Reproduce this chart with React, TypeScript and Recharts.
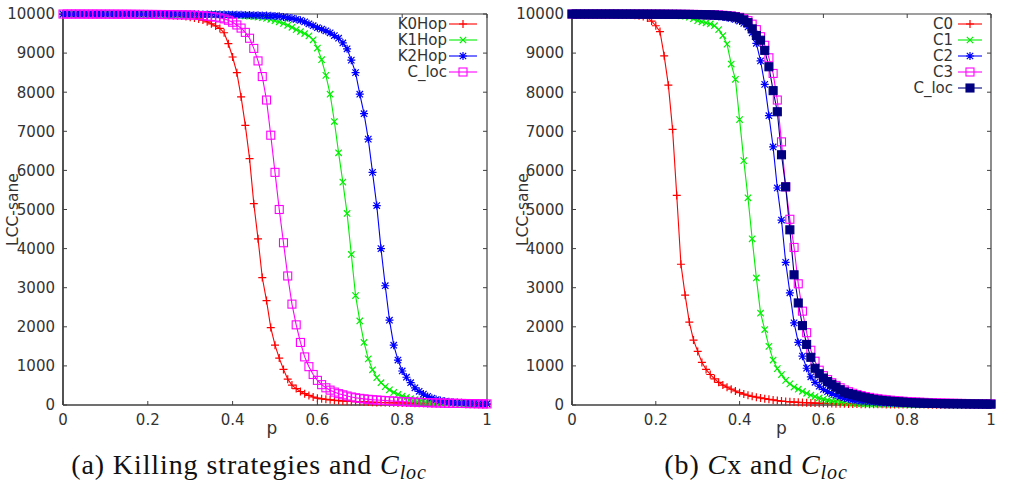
import React from 'react';
import { LineChart, Line, XAxis, YAxis, Label, ReferenceLine } from 'recharts';

// ---------- data ----------
const P = [
  0, 0.01, 0.02, 0.03, 0.04, 0.05, 0.06, 0.07, 0.08, 0.09,
  0.1, 0.11, 0.12, 0.13, 0.14, 0.15, 0.16, 0.17, 0.18, 0.19,
  0.2, 0.21, 0.22, 0.23, 0.24, 0.25, 0.26, 0.27, 0.28, 0.29,
  0.3, 0.31, 0.32, 0.33, 0.34, 0.35, 0.36, 0.37, 0.38, 0.39,
  0.4, 0.41, 0.42, 0.43, 0.44, 0.45, 0.46, 0.47, 0.48, 0.49,
  0.5, 0.51, 0.52, 0.53, 0.54, 0.55, 0.56, 0.57, 0.58, 0.59,
  0.6, 0.61, 0.62, 0.63, 0.64, 0.65, 0.66, 0.67, 0.68, 0.69,
  0.7, 0.71, 0.72, 0.73, 0.74, 0.75, 0.76, 0.77, 0.78, 0.79,
  0.8, 0.81, 0.82, 0.83, 0.84, 0.85, 0.86, 0.87, 0.88, 0.89,
  0.9, 0.91, 0.92, 0.93, 0.94, 0.95, 0.96, 0.97, 0.98, 0.99, 1,
];

// (a) Killing strategies and C_loc
const K0HOP = [
  9998, 9998, 9998, 9997, 9997, 9997, 9996, 9996, 9996, 9995,
  9995, 9994, 9994, 9993, 9993, 9992, 9991, 9990, 9989, 9987,
  9985, 9983, 9980, 9977, 9973, 9968, 9962, 9955, 9946, 9935,
  9920, 9900, 9875, 9845, 9800, 9750, 9695, 9630, 9520, 9240,
  8900, 8500, 7880, 7150, 6300, 5150, 4250, 3260, 2670, 1980,
  1530, 1200, 910, 660, 510, 420, 345, 290, 245, 205,
  175, 158, 145, 133, 122, 113, 105, 98, 92, 87,
  82, 78, 74, 70, 67, 64, 61, 58, 56, 54,
  52, 50, 48, 46, 44, 42, 40, 38, 36, 34,
  32, 30, 28, 26, 24, 22, 20, 18, 16, 14, 12,
];
const K1HOP = [
  9999, 9999, 9999, 9999, 9999, 9999, 9998, 9998, 9998, 9998,
  9998, 9997, 9997, 9997, 9997, 9996, 9996, 9996, 9995, 9995,
  9995, 9994, 9994, 9993, 9993, 9992, 9992, 9991, 9990, 9990,
  9989, 9988, 9987, 9986, 9985, 9984, 9983, 9981, 9980, 9978,
  9975, 9970, 9962, 9955, 9945, 9935, 9920, 9905, 9885, 9860,
  9830, 9800, 9760, 9710, 9660, 9600, 9550, 9500, 9440, 9340,
  9130, 8830, 8430, 7950, 7250, 6450, 5700, 4900, 3850, 2800,
  2150, 1600, 1180, 900, 700, 570, 470, 390, 320, 270,
  230, 195, 165, 140, 120, 105, 93, 83, 75, 68,
  62, 57, 52, 48, 44, 41, 38, 35, 33, 31, 29,
];
const K2HOP = [
  9999, 9999, 9999, 9999, 9999, 9999, 9999, 9999, 9999, 9999,
  9998, 9998, 9998, 9998, 9998, 9998, 9997, 9997, 9997, 9997,
  9997, 9996, 9996, 9996, 9995, 9995, 9995, 9994, 9994, 9993,
  9993, 9992, 9991, 9990, 9989, 9988, 9987, 9986, 9985, 9983,
  9982, 9980, 9978, 9976, 9973, 9970, 9967, 9963, 9959, 9955,
  9950, 9940, 9925, 9910, 9890, 9865, 9840, 9800, 9750, 9700,
  9650, 9610, 9570, 9520, 9450, 9380, 9260, 9110, 8820, 8500,
  7950, 7450, 6800, 5950, 5100, 4000, 3050, 2170, 1530, 1150,
  870, 710, 570, 440, 350, 280, 220, 175, 140, 115,
  95, 80, 70, 62, 55, 50, 45, 41, 38, 35, 32,
];
const CLOC_A = [
  9999, 9999, 9999, 9999, 9999, 9998, 9998, 9998, 9998, 9997,
  9997, 9997, 9996, 9996, 9995, 9995, 9994, 9993, 9992, 9991,
  9990, 9989, 9988, 9987, 9986, 9985, 9983, 9981, 9979, 9977,
  9975, 9970, 9962, 9955, 9945, 9935, 9920, 9900, 9875, 9840,
  9790, 9720, 9640, 9530, 9380, 9120, 8800, 8400, 7800, 6900,
  5950, 5000, 4150, 3300, 2580, 2050, 1600, 1230, 980, 780,
  630, 520, 440, 380, 330, 290, 260, 230, 205, 185,
  170, 157, 145, 135, 127, 120, 113, 106, 100, 93,
  87, 82, 77, 72, 68, 64, 60, 57, 54, 51,
  48, 46, 44, 42, 40, 38, 36, 34, 32, 30, 28,
];

// (b) Cx and C_loc
const C0 = [
  9999, 9999, 9999, 9999, 9999, 9999, 9999, 9998, 9998, 9997,
  9995, 9993, 9990, 9985, 9978, 9968, 9955, 9935, 9900, 9820,
  9700, 9550, 8930, 8180, 7050, 5360, 3600, 2810, 2120, 1660,
  1370, 1090, 910, 780, 670, 580, 510, 455, 405, 358,
  315, 280, 250, 222, 200, 180, 163, 146, 129, 114,
  100, 90, 82, 75, 69, 63, 58, 53, 49, 45,
  42, 39, 36, 33, 31, 29, 27, 25, 23, 22,
  20, 19, 18, 17, 16, 15, 14, 14, 13, 12,
  12, 11, 11, 10, 10, 9, 9, 9, 8, 8,
  8, 7, 7, 7, 6, 6, 6, 6, 5, 5, 5,
];
const C1 = [
  9999, 9999, 9999, 9999, 9999, 9999, 9999, 9999, 9998, 9998,
  9998, 9998, 9997, 9997, 9996, 9996, 9995, 9994, 9993, 9991,
  9988, 9985, 9982, 9978, 9972, 9964, 9955, 9945, 9920, 9880,
  9830, 9800, 9775, 9745, 9700, 9600, 9450, 9230, 8720, 8330,
  7300, 6250, 5300, 4250, 3250, 2350, 1930, 1500, 1150, 930,
  780, 630, 540, 460, 405, 350, 300, 250, 215, 180,
  150, 120, 100, 85, 70, 58, 50, 43, 37, 32,
  28, 26, 24, 22, 20, 19, 18, 17, 16, 15,
  14, 13, 12, 12, 11, 11, 10, 10, 9, 9,
  9, 8, 8, 8, 7, 7, 7, 6, 6, 6, 5,
];
const C2 = [
  9999, 9999, 9999, 9999, 9999, 9999, 9999, 9999, 9999, 9999,
  9998, 9998, 9998, 9998, 9997, 9997, 9997, 9996, 9996, 9995,
  9995, 9994, 9993, 9993, 9992, 9991, 9990, 9989, 9987, 9985,
  9980, 9975, 9970, 9962, 9955, 9945, 9930, 9912, 9890, 9860,
  9820, 9760, 9670, 9520, 9250, 8800, 8200, 7400, 6600, 5550,
  4730, 3650, 2870, 2100, 1600, 1250, 940, 720, 580, 480,
  400, 340, 290, 250, 215, 185, 160, 140, 122, 108,
  96, 86, 77, 70, 63, 57, 52, 48, 44, 40,
  37, 34, 32, 30, 28, 26, 24, 23, 22, 21,
  20, 19, 18, 17, 16, 15, 14, 14, 13, 13, 12,
];
const C3 = [
  9999, 9999, 9999, 9999, 9999, 9999, 9999, 9999, 9999, 9999,
  9999, 9999, 9998, 9998, 9998, 9998, 9997, 9997, 9997, 9996,
  9996, 9995, 9995, 9994, 9993, 9993, 9992, 9991, 9990, 9989,
  9988, 9986, 9984, 9982, 9979, 9975, 9968, 9960, 9950, 9935,
  9915, 9880, 9830, 9740, 9600, 9420, 9200, 8880, 8480, 7800,
  6730, 5580, 4750, 4030, 3100, 2400, 1850, 1400, 1120, 890,
  750, 650, 570, 500, 440, 385, 340, 300, 268, 240,
  215, 195, 175, 160, 146, 134, 123, 113, 104, 96,
  89, 83, 77, 72, 67, 63, 59, 55, 52, 49,
  46, 44, 42, 40, 38, 36, 34, 32, 31, 30, 29,
];
const CLOC_B = [
  9999, 9999, 9999, 9999, 9999, 9999, 9999, 9999, 9999, 9999,
  9999, 9998, 9998, 9998, 9998, 9997, 9997, 9997, 9996, 9996,
  9995, 9995, 9994, 9993, 9993, 9992, 9991, 9990, 9989, 9987,
  9985, 9983, 9980, 9977, 9973, 9965, 9958, 9950, 9940, 9925,
  9900, 9850, 9780, 9620, 9450, 9330, 9070, 8650, 8040, 7500,
  6400, 5580, 4480, 3330, 2610, 2030, 1550, 1220, 940, 800,
  690, 600, 530, 460, 390, 330, 295, 265, 235, 208,
  185, 165, 145, 128, 115, 104, 95, 87, 80, 74,
  65, 58, 54, 50, 47, 44, 41, 38, 36, 34,
  32, 31, 30, 29, 28, 27, 26, 25, 24, 23, 22,
];

const X_TICKS = [0, 0.2, 0.4, 0.6, 0.8, 1];
const Y_TICKS = [0, 1000, 2000, 3000, 4000, 5000, 6000, 7000, 8000, 9000, 10000];
const X_MAX = 1;
const Y_MAX = 10000;

const LEFT_NAMES = ['K0Hop', 'K1Hop', 'K2Hop', 'C_loc'];
const RIGHT_NAMES = ['C0', 'C1', 'C2', 'C3', 'C_loc'];

const dataA = P.map((p, i) => ({ p, k0: K0HOP[i], k1: K1HOP[i], k2: K2HOP[i], cl: CLOC_A[i] }));
const dataB = P.map((p, i) => ({ p, c0: C0[i], c1: C1[i], c2: C2[i], c3: C3[i], cl: CLOC_B[i] }));

// ---------- styles ----------
const FONT = "'DejaVu Sans', Verdana, sans-serif";
const AX = '#404040';
const TXT = '#333333';
const RED = '#ff0000';
const GREEN = '#00ee00';
const BLUE = '#0000ff';
const MAGENTA = '#ff00ff';
const NAVY = '#000080';

type Kind = 'plus' | 'cross' | 'star' | 'square' | 'fsquare';

function Marker({ cx, cy, kind, color }: { cx: number; cy: number; kind: Kind; color: string }) {
  const s = 4;
  if (kind === 'square' || kind === 'fsquare') {
    return (
      <rect x={cx - s} y={cy - s} width={2 * s} height={2 * s}
        fill={kind === 'fsquare' ? color : 'none'} stroke={color} strokeWidth={1.1} />
    );
  }
  const t = s * 0.8;
  const plus = `M${cx - s} ${cy}H${cx + s}M${cx} ${cy - s}V${cy + s}`;
  const cross = `M${cx - t} ${cy - t}L${cx + t} ${cy + t}M${cx - t} ${cy + t}L${cx + t} ${cy - t}`;
  const d = kind === 'plus' ? plus : kind === 'cross' ? cross : plus + cross;
  return <path d={d} stroke={color} strokeWidth={1.2} fill="none" />;
}

const makeDot = (kind: Kind, color: string) => (props: any) => {
  const { cx, cy, index } = props;
  if (cx == null || cy == null) return <g key={`e${index}`} />;
  return <Marker key={`m${index}`} cx={cx} cy={cy} kind={kind} color={color} />;
};

type Series = { key: string; color: string; kind: Kind };

const SERIES_A: Series[] = [
  { key: 'k0', color: RED, kind: 'plus' },
  { key: 'k1', color: GREEN, kind: 'cross' },
  { key: 'k2', color: BLUE, kind: 'star' },
  { key: 'cl', color: MAGENTA, kind: 'square' },
];
const SERIES_B: Series[] = [
  { key: 'c0', color: RED, kind: 'plus' },
  { key: 'c1', color: GREEN, kind: 'cross' },
  { key: 'c2', color: BLUE, kind: 'star' },
  { key: 'c3', color: MAGENTA, kind: 'square' },
  { key: 'cl', color: NAVY, kind: 'fsquare' },
];

function Panel({ data, series, left, yw, pw, ylOffset, pdx }: {
  data: any[]; series: Series[]; left: number; yw: number; pw: number; ylOffset: number; pdx: number;
}) {
  const W = 507;
  const PH = 391;
  const tickStyle = { fill: TXT, fontSize: 15, fontFamily: FONT };
  // inward tick length of 4px, expressed in data units for the mirrored frame ticks
  const tY = (4 / PH) * Y_MAX;
  const tX = (4 / pw) * X_MAX;
  return (
    <div style={{ position: 'absolute', left, top: 0 }}>
      <LineChart width={W} height={440} data={data}
        margin={{ top: 14, right: W - yw - pw, bottom: 0, left: 0 }}>
        <XAxis dataKey="p" type="number" domain={[0, X_MAX]} ticks={X_TICKS} interval={0}
          tickFormatter={(v: number) => String(v)} height={35} tickSize={-4} tickMargin={13}
          axisLine={{ stroke: AX, strokeWidth: 1.5 }} tickLine={{ stroke: AX }} tick={tickStyle}>
          <Label value="p" position="insideBottom" offset={6} dx={pdx}
            style={{ fontSize: 17, fontFamily: FONT, fill: TXT }} />
        </XAxis>
        <YAxis type="number" domain={[0, Y_MAX]} ticks={Y_TICKS} interval={0} width={yw}
          tickSize={-4} tickMargin={12} axisLine={{ stroke: AX, strokeWidth: 1.8 }}
          tickLine={{ stroke: AX }} tick={tickStyle}>
          <Label value="LCC-sane" angle={-90} position="insideLeft" offset={ylOffset}
            style={{ fontSize: 15.5, fontFamily: FONT, fill: TXT, textAnchor: 'middle' }} />
        </YAxis>
        <ReferenceLine y={Y_MAX} stroke={AX} strokeWidth={1.2} />
        <ReferenceLine x={X_MAX} stroke={AX} strokeWidth={1.2} />
        {X_TICKS.map((x) => (
          <ReferenceLine key={`tt${x}`} segment={[{ x, y: Y_MAX }, { x, y: Y_MAX - tY }]} stroke={AX} />
        ))}
        {Y_TICKS.map((y) => (
          <ReferenceLine key={`rt${y}`} segment={[{ x: X_MAX, y }, { x: X_MAX - tX, y }]} stroke={AX} />
        ))}
        {series.map((s) => (
          <Line key={s.key} type="linear" dataKey={s.key} stroke={s.color} strokeWidth={1.1}
            dot={makeDot(s.kind, s.color)} activeDot={false} isAnimationActive={false} />
        ))}
      </LineChart>
    </div>
  );
}

function LegendBox({ names, series, textRight, x1, x2, y0 }: {
  names: string[]; series: Series[]; textRight: number; x1: number; x2: number; y0: number;
}) {
  return (
    <g>
      {names.map((n, i) => {
        const y = y0 + i * 16;
        const s = series[i];
        return (
          <g key={n + i}>
            <text x={textRight} y={y} textAnchor="end" dominantBaseline="central"
              fontSize={15} fontFamily={FONT} fill={TXT}>{n}</text>
            <line x1={x1} x2={x2} y1={y} y2={y} stroke={s.color} strokeWidth={1.1} />
            <Marker cx={(x1 + x2) / 2} cy={y} kind={s.kind} color={s.color} />
          </g>
        );
      })}
    </g>
  );
}

export default function App() {
  const serif = "'Liberation Serif', 'Times New Roman', serif";
  return (
    <div style={{ position: 'absolute', left: 0, top: 0, width: 1014, height: 490, background: '#fff', overflow: 'hidden' }}>
      <Panel data={dataA} series={SERIES_A} left={0} yw={63} pw={424} ylOffset={12} pdx={-3} />
      <Panel data={dataB} series={SERIES_B} left={507} yw={65} pw={419} ylOffset={15} pdx={0} />
      <svg width={1014} height={490} style={{ position: 'absolute', left: 0, top: 0, pointerEvents: 'none' }}>
        <LegendBox names={LEFT_NAMES} series={SERIES_A} textRight={447} x1={449} x2={477} y0={24} />
        <LegendBox names={RIGHT_NAMES} series={SERIES_B} textRight={953} x1={958} x2={982} y0={24} />
        <text x={249} y={474} textAnchor="middle" fontFamily={serif} fontSize={28} letterSpacing={0.9} fill="#111">
          (a) Killing strategies and <tspan fontStyle="italic">C</tspan>
          <tspan fontStyle="italic" fontSize={20} dy={5}>loc</tspan>
        </text>
        <text x={756} y={474} textAnchor="middle" fontFamily={serif} fontSize={28} letterSpacing={0.9} fill="#111">
          (b) <tspan fontStyle="italic">C</tspan>x and <tspan fontStyle="italic">C</tspan>
          <tspan fontStyle="italic" fontSize={20} dy={5}>loc</tspan>
        </text>
      </svg>
    </div>
  );
}
